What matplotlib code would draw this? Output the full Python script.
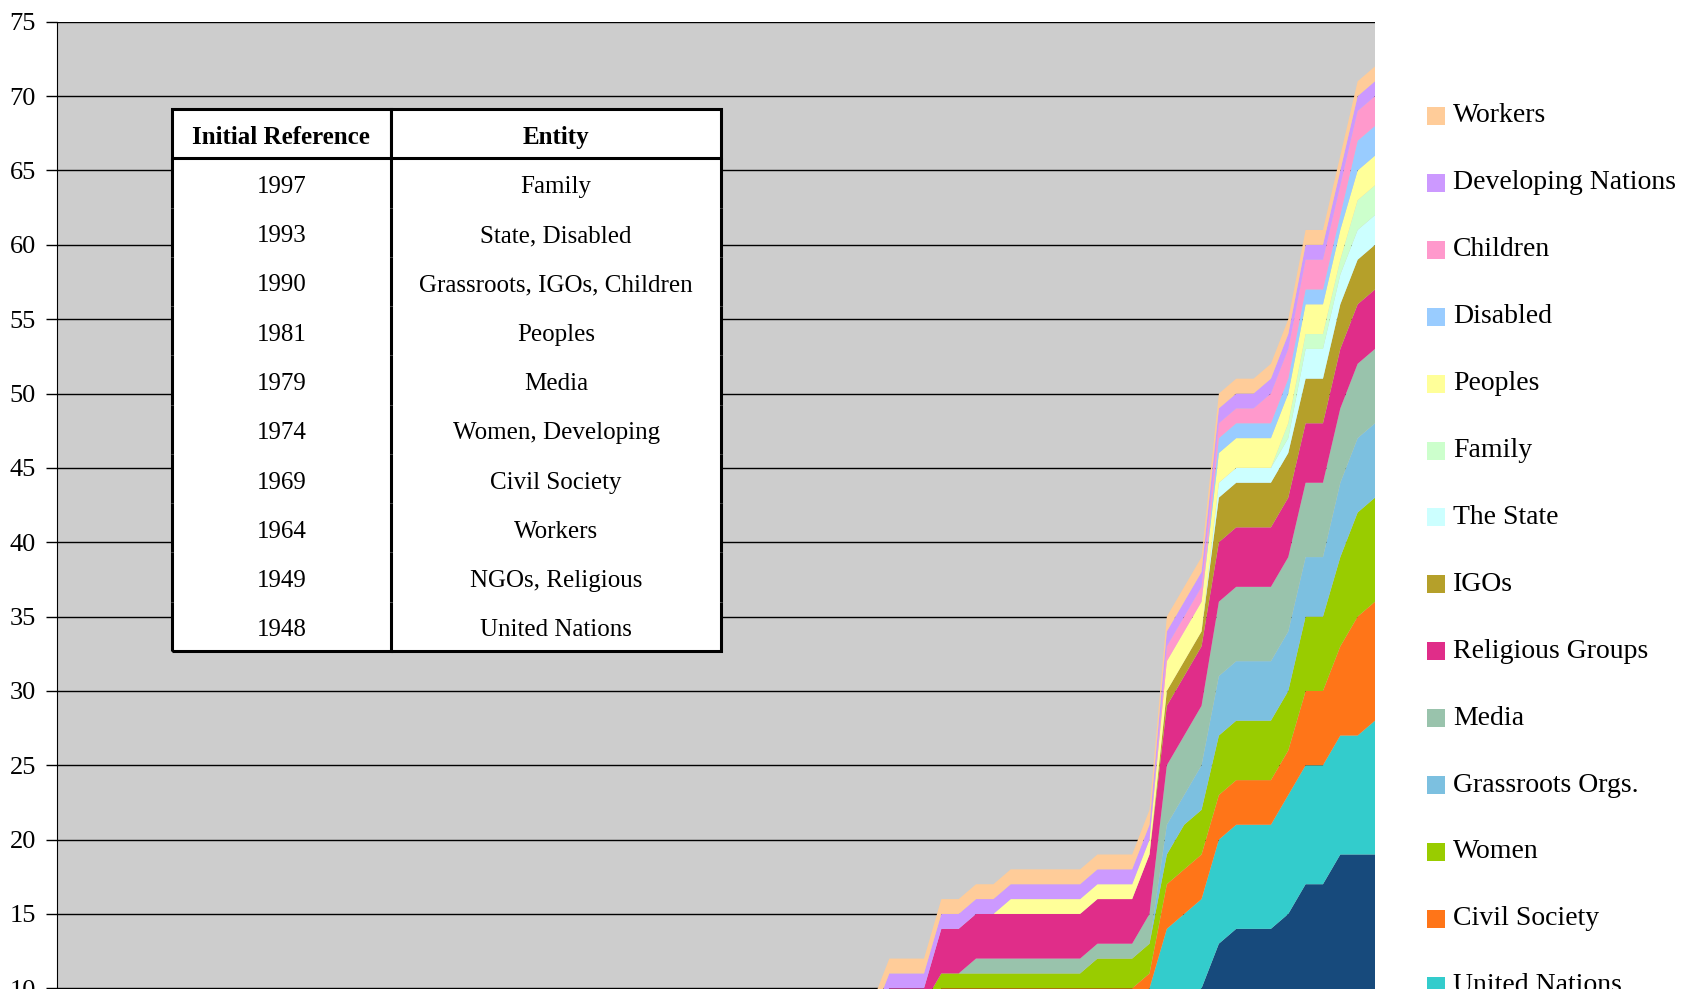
import matplotlib
matplotlib.use("Agg")
import matplotlib.pyplot as plt
from matplotlib.patches import Rectangle
from matplotlib.transforms import Affine2D

plt.rcParams['font.family'] = ['Liberation Serif', 'DejaVu Serif']

# Jahre (Kategorie-Achse, unten abgeschnitten)
years = list(range(1926, 2003))

# kumulative Werte je Gruppe, Zeilen = 1926-29, 1930er, 1940er, ... 2000-02
ngos = [0, 0, 0, 0,
        0, 0, 0, 0, 0, 0, 0, 0, 0, 0,
        0, 0, 0, 0, 0, 0, 0, 0, 0, 1,
        1, 1, 1, 1, 1, 1, 1, 2, 2, 2,
        2, 2, 2, 2, 3, 3, 3, 3, 3, 4,
        4, 4, 4, 4, 5, 5, 5, 6, 6, 6,
        6, 6, 6, 6, 6, 6, 6, 6, 6, 6,
        8, 9, 10, 13, 14, 14, 14, 15, 17, 17,
        19, 19, 19]
united_nations = [0, 0, 0, 0,
                  0, 0, 0, 0, 0, 0, 0, 0, 0, 0,
                  0, 0, 0, 0, 0, 0, 0, 0, 1, 1,
                  1, 1, 1, 1, 1, 1, 1, 1, 1, 1,
                  1, 2, 2, 2, 2, 2, 2, 2, 2, 2,
                  2, 2, 2, 2, 2, 2, 2, 3, 3, 3,
                  3, 3, 3, 3, 3, 3, 3, 3, 3, 4,
                  6, 6, 6, 7, 7, 7, 7, 8, 8, 8,
                  8, 8, 9]
civil_society = [0, 0, 0, 0,
                 0, 0, 0, 0, 0, 0, 0, 0, 0, 0,
                 0, 0, 0, 0, 0, 0, 0, 0, 0, 0,
                 0, 0, 0, 0, 0, 0, 0, 0, 0, 0,
                 0, 0, 0, 0, 0, 0, 0, 0, 0, 1,
                 1, 1, 1, 1, 1, 1, 1, 1, 1, 1,
                 1, 1, 1, 1, 1, 1, 1, 1, 1, 1,
                 3, 3, 3, 3, 3, 3, 3, 3, 5, 5,
                 6, 8, 8]
women = [0, 0, 0, 0,
         0, 0, 0, 0, 0, 0, 0, 0, 0, 0,
         0, 0, 0, 0, 0, 0, 0, 0, 0, 0,
         0, 0, 0, 0, 0, 0, 0, 0, 0, 0,
         0, 0, 0, 0, 0, 0, 0, 0, 0, 0,
         0, 0, 0, 0, 1, 1, 1, 1, 1, 1,
         1, 1, 1, 1, 1, 1, 2, 2, 2, 2,
         2, 3, 3, 4, 4, 4, 4, 4, 5, 5,
         6, 7, 7]
grassroots = [0, 0, 0, 0,
              0, 0, 0, 0, 0, 0, 0, 0, 0, 0,
              0, 0, 0, 0, 0, 0, 0, 0, 0, 0,
              0, 0, 0, 0, 0, 0, 0, 0, 0, 0,
              0, 0, 0, 0, 0, 0, 0, 0, 0, 0,
              0, 0, 0, 0, 0, 0, 0, 0, 0, 0,
              0, 0, 0, 0, 0, 0, 0, 0, 0, 0,
              2, 2, 3, 4, 4, 4, 4, 4, 4, 4,
              5, 5, 5]
media = [0, 0, 0, 0,
         0, 0, 0, 0, 0, 0, 0, 0, 0, 0,
         0, 0, 0, 0, 0, 0, 0, 0, 0, 0,
         0, 0, 0, 0, 0, 0, 0, 0, 0, 0,
         0, 0, 0, 0, 0, 0, 0, 0, 0, 0,
         0, 0, 0, 0, 0, 0, 0, 0, 0, 1,
         1, 1, 1, 1, 1, 1, 1, 1, 1, 2,
         4, 4, 4, 5, 5, 5, 5, 5, 5, 5,
         5, 5, 5]
religious = [0, 0, 0, 0,
             0, 0, 0, 0, 0, 0, 0, 0, 0, 0,
             0, 0, 0, 0, 0, 0, 0, 0, 0, 1,
             1, 1, 1, 1, 1, 1, 1, 1, 1, 1,
             1, 1, 1, 1, 1, 1, 1, 1, 1, 1,
             1, 1, 1, 1, 1, 1, 1, 3, 3, 3,
             3, 3, 3, 3, 3, 3, 3, 3, 3, 4,
             4, 4, 4, 4, 4, 4, 4, 4, 4, 4,
             4, 4, 4]
igos = [0, 0, 0, 0,
        0, 0, 0, 0, 0, 0, 0, 0, 0, 0,
        0, 0, 0, 0, 0, 0, 0, 0, 0, 0,
        0, 0, 0, 0, 0, 0, 0, 0, 0, 0,
        0, 0, 0, 0, 0, 0, 0, 0, 0, 0,
        0, 0, 0, 0, 0, 0, 0, 0, 0, 0,
        0, 0, 0, 0, 0, 0, 0, 0, 0, 0,
        1, 1, 1, 3, 3, 3, 3, 3, 3, 3,
        3, 3, 3]
the_state = [0, 0, 0, 0,
             0, 0, 0, 0, 0, 0, 0, 0, 0, 0,
             0, 0, 0, 0, 0, 0, 0, 0, 0, 0,
             0, 0, 0, 0, 0, 0, 0, 0, 0, 0,
             0, 0, 0, 0, 0, 0, 0, 0, 0, 0,
             0, 0, 0, 0, 0, 0, 0, 0, 0, 0,
             0, 0, 0, 0, 0, 0, 0, 0, 0, 0,
             0, 0, 0, 1, 1, 1, 1, 1, 2, 2,
             2, 2, 2]
family = [0, 0, 0, 0,
          0, 0, 0, 0, 0, 0, 0, 0, 0, 0,
          0, 0, 0, 0, 0, 0, 0, 0, 0, 0,
          0, 0, 0, 0, 0, 0, 0, 0, 0, 0,
          0, 0, 0, 0, 0, 0, 0, 0, 0, 0,
          0, 0, 0, 0, 0, 0, 0, 0, 0, 0,
          0, 0, 0, 0, 0, 0, 0, 0, 0, 0,
          0, 0, 0, 0, 0, 0, 0, 1, 1, 1,
          1, 2, 2]
peoples = [0, 0, 0, 0,
           0, 0, 0, 0, 0, 0, 0, 0, 0, 0,
           0, 0, 0, 0, 0, 0, 0, 0, 0, 0,
           0, 0, 0, 0, 0, 0, 0, 0, 0, 0,
           0, 0, 0, 0, 0, 0, 0, 0, 0, 0,
           0, 0, 0, 0, 0, 0, 0, 0, 0, 0,
           0, 1, 1, 1, 1, 1, 1, 1, 1, 1,
           2, 2, 2, 2, 2, 2, 2, 2, 2, 2,
           2, 2, 2]
disabled = [0, 0, 0, 0,
            0, 0, 0, 0, 0, 0, 0, 0, 0, 0,
            0, 0, 0, 0, 0, 0, 0, 0, 0, 0,
            0, 0, 0, 0, 0, 0, 0, 0, 0, 0,
            0, 0, 0, 0, 0, 0, 0, 0, 0, 0,
            0, 0, 0, 0, 0, 0, 0, 0, 0, 0,
            0, 0, 0, 0, 0, 0, 0, 0, 0, 0,
            0, 0, 0, 1, 1, 1, 1, 1, 1, 1,
            1, 2, 2]
children = [0, 0, 0, 0,
            0, 0, 0, 0, 0, 0, 0, 0, 0, 0,
            0, 0, 0, 0, 0, 0, 0, 0, 0, 0,
            0, 0, 0, 0, 0, 0, 0, 0, 0, 0,
            0, 0, 0, 0, 0, 0, 0, 0, 0, 0,
            0, 0, 0, 0, 0, 0, 0, 0, 0, 0,
            0, 0, 0, 0, 0, 0, 0, 0, 0, 0,
            1, 1, 1, 1, 1, 1, 2, 2, 2, 2,
            2, 2, 2]
developing = [0, 0, 0, 0,
              0, 0, 0, 0, 0, 0, 0, 0, 0, 0,
              0, 0, 0, 0, 0, 0, 0, 0, 0, 0,
              0, 0, 0, 0, 0, 0, 0, 0, 0, 0,
              0, 0, 0, 0, 0, 0, 0, 0, 0, 0,
              0, 0, 0, 0, 1, 1, 1, 1, 1, 1,
              1, 1, 1, 1, 1, 1, 1, 1, 1, 1,
              1, 1, 1, 1, 1, 1, 1, 1, 1, 1,
              1, 1, 1]
workers = [0, 0, 0, 0,
           0, 0, 0, 0, 0, 0, 0, 0, 0, 0,
           0, 0, 0, 0, 0, 0, 0, 0, 0, 0,
           0, 0, 0, 0, 0, 0, 0, 0, 0, 0,
           0, 0, 0, 0, 1, 1, 1, 1, 1, 1,
           1, 1, 1, 1, 1, 1, 1, 1, 1, 1,
           1, 1, 1, 1, 1, 1, 1, 1, 1, 1,
           1, 1, 1, 1, 1, 1, 1, 1, 1, 1,
           1, 1, 1]

# Reihenfolge von unten nach oben
series = [ngos, united_nations, civil_society, women, grassroots, media,
          religious, igos, the_state, family, peoples, disabled, children,
          developing, workers]
labels = ['NGOs', 'United Nations', 'Civil Society', 'Women', 'Grassroots Orgs.',
          'Media', 'Religious Groups', 'IGOs', 'The State', 'Family', 'Peoples',
          'Disabled', 'Children', 'Developing Nations', 'Workers']
colors = ['#174a7c', '#33cccc', '#ff7518', '#99cc00', '#7cc0e0', '#99c3ac',
          '#e02d89', '#b5a02a', '#ccffff', '#ccffcc', '#ffff99', '#99ccff',
          '#ff99cc', '#cc99ff', '#ffcc99']

# Tabelle: erste Erwähnung
table_years = ['1997', '1993', '1990', '1981', '1979', '1974', '1969', '1964', '1949', '1948']
table_entities = ['Family', 'State, Disabled', 'Grassroots, IGOs, Children', 'Peoples',
                  'Media', 'Women, Developing', 'Civil Society', 'Workers',
                  'NGOs, Religious', 'United Nations']

W, H = 1693, 989
TOP = 21.8      # y-Pixel der 75er Linie
BOT = 1137.0    # y-Pixel von 0 (unterhalb des Bildes)
fig = plt.figure(figsize=(W / 100, H / 100), dpi=100)
# Achse reicht unter den Bildrand (Original ist unten abgeschnitten)
ax = fig.add_axes([56.7 / W, (H - BOT) / H, 1318.3 / W, (BOT - TOP) / H])
ax.set_facecolor('#cdcdcd')

polys = ax.stackplot(years, *series, colors=colors, linewidth=0)

ax.set_xlim(years[0], years[-1])
ax.set_ylim(0, 75)
ax.set_yticks(range(0, 80, 5))
ax.set_xticks([])
ax.set_axisbelow(True)
ax.yaxis.grid(True, color='black', linewidth=1.0)
ax.tick_params(axis='y', length=8, width=1, pad=7, labelsize=19, direction='out')
for side in ['top', 'right', 'bottom']:
    ax.spines[side].set_visible(False)
ax.spines['left'].set_color('black')

# Tabelle oben links
def to_ax(px, py):
    return (px - 56.7) / 1318.3, (BOT - py) / (BOT - TOP)

x0, y1 = to_ax(171.7, 109)
x1, y0 = to_ax(721.2, 651)
ax.add_patch(Rectangle((x0, y0), x1 - x0, y1 - y0, transform=ax.transAxes,
                       facecolor='white', edgecolor='none', zorder=4))
rows = [[a, b] for a, b in zip(table_years, table_entities)]
tab = ax.table(cellText=rows, colLabels=['Initial Reference', 'Entity'],
               cellLoc='center', colWidths=[0.399, 0.601],
               bbox=[x0, y0, x1 - x0, y1 - y0])
tab.set_zorder(5)
tab.auto_set_font_size(False)
tab.set_fontsize(18)
nrows = len(rows)
for (r, c), cell in tab.get_celld().items():
    cell.set_linewidth(2.2)
    cell.set_facecolor('white')
    # Text etwas tiefer setzen wie im Original
    cell.get_text().set_transform(Affine2D().translate(0, -4))
    if r == 0:
        cell.visible_edges = 'closed'
        cell.get_text().set_fontweight('bold')
    else:
        edges = 'LR' if c == 0 else 'R'
        if r == nrows:
            edges += 'B'
        cell.visible_edges = edges

# Legende rechts, oben beginnt mit Workers
for i, k in enumerate(range(len(series) - 1, -1, -1)):
    yc = 116.0 + i * 66.9
    fig.add_artist(Rectangle((1427 / W, 1 - (yc + 9) / H), 18 / W, 18 / H,
                             transform=fig.transFigure, facecolor=colors[k],
                             edgecolor='none'))
    fig.text(1453 / W, 1 - yc / H, labels[k], fontsize=20, va='center', ha='left')

fig.savefig('out.png', dpi=100)
